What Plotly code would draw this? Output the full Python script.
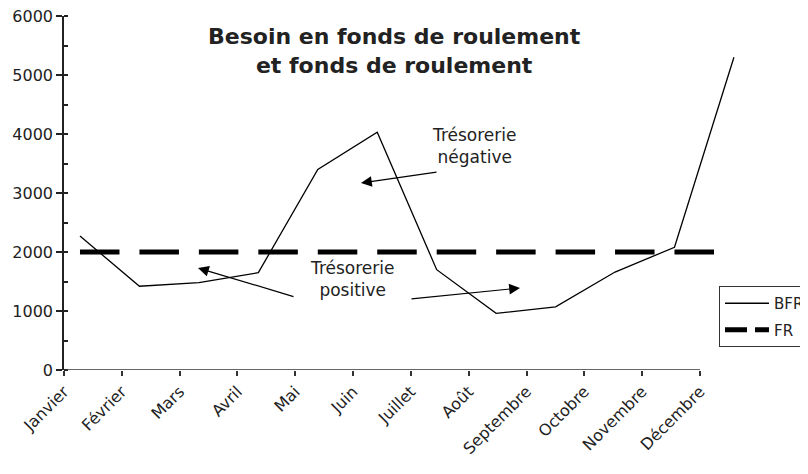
import plotly.graph_objects as go

months = ["Janvier", "Février", "Mars", "Avril", "Mai", "Juin", "Juillet",
          "Août", "Septembre", "Octobre", "Novembre", "Décembre"]
bfr = [2270, 1420, 1480, 1650, 3400, 4030, 1700, 960, 1070, 1660, 2080, 5300]
fr = [2000] * 12
y_ticks = [0, 1000, 2000, 3000, 4000, 5000, 6000]

FONT = "DejaVu Sans"
TXT = "#222222"

# page body has an 8px margin: figure drawn at (8, 8) in the window
OFF = 8
W, H = 808 - OFF, 474 - OFF
PL, PR, PT, PB = 64 - OFF, 745 - OFF, 16 - OFF, 370 - OFF  # plot area in fig px
PW, PH = PR - PL, PB - PT


def px(x):
    return (x - 64) / PW


def py(y):
    return (370 - y) / PH


fig = go.Figure()
fig.add_trace(go.Scatter(x=months, y=bfr, name="BFR", mode="lines",
                         line=dict(color="black", width=1.3),
                         xaxis="x2", yaxis="y", legendgroup="a"))
fig.add_trace(go.Scatter(x=months, y=fr, name="FR", mode="lines",
                         line=dict(color="black", width=5, dash="39.5px,19.95px"),
                         xaxis="x2", yaxis="y", showlegend=False))
# legend entry for FR (no data points)
fig.add_trace(go.Scatter(x=[None], y=[None], name="FR", mode="lines",
                         line=dict(color="black", width=5, dash="22px,8px"),
                         xaxis="x2", yaxis="y", legendgroup="b"))

n = len(months)
fig.add_shape(type="line", xref="x", yref="y", x0=0, x1=n - 1, y0=0, y1=0,
              line=dict(color="#333333", width=1.5))

fig.update_layout(
    width=W, height=H,
    margin=dict(l=PL, r=W - PR, t=PT, b=H - PB, autoexpand=False),
    paper_bgcolor="white", plot_bgcolor="white",
    font=dict(family=FONT, color=TXT),
    xaxis=dict(type="linear", range=[0, 11 * PW / 636], tickvals=list(range(n)),
               ticktext=months, tickangle=-45, ticks="outside", ticklen=5,
               tickcolor="#333333", tickwidth=1.5, showline=False,
               showgrid=False, zeroline=False,
               tickfont=dict(family=FONT, size=16, color=TXT)),
    xaxis2=dict(type="category", overlaying="x", anchor="y",
                range=[-0.269, 11.186], visible=False),
    yaxis=dict(range=[0, 6000], tickvals=y_ticks, ticks="outside", ticklen=6,
               tickcolor="#222222", tickwidth=1.5, showline=True,
               linecolor="#222222", linewidth=1.5, showgrid=False,
               zeroline=False, ticklabeloverflow="allow",
               minor=dict(dtick=500, ticks="inside", ticklen=4,
                          tickcolor="#222222", tickwidth=1.5),
               tickfont=dict(family=FONT, size=16, color=TXT)),
    legend=dict(x=px(719), y=py(286), xanchor="left",
                yanchor="top", bordercolor="#333333", borderwidth=1,
                bgcolor="white", font=dict(family=FONT, size=15, color=TXT),
                itemwidth=44, traceorder="grouped", tracegroupgap=4),
    annotations=[
        dict(text="<b>Besoin en fonds de roulement<br>et fonds de roulement</b>",
             x=px(394), y=py(22), xref="paper", yref="paper",
             xanchor="center", yanchor="top", showarrow=False,
             font=dict(family=FONT, size=22, color=TXT)),
        dict(text="Trésorerie<br>négative", x=px(474), y=py(146),
             xref="paper", yref="paper", showarrow=False,
             font=dict(family=FONT, size=17, color=TXT)),
        dict(text="Trésorerie<br>positive", x=px(352), y=py(302),
             xref="paper", yref="paper", showarrow=False,
             font=dict(family=FONT, size=17, color=TXT)),
        dict(text="", x=px(361), y=py(183), xref="paper",
             yref="paper", ax=77, ay=-11, showarrow=True, arrowhead=2,
             arrowsize=1.8, arrowwidth=1.2, arrowcolor="black"),
        dict(text="", x=px(520), y=py(288), xref="paper",
             yref="paper", ax=-110, ay=11, showarrow=True, arrowhead=2,
             arrowsize=1.8, arrowwidth=1.2, arrowcolor="black"),
        dict(text="", x=px(198), y=py(268), xref="paper",
             yref="paper", ax=97, ay=29, showarrow=True, arrowhead=2,
             arrowsize=1.8, arrowwidth=1.2, arrowcolor="black"),
    ],
)

fig.write_html("out.html")
